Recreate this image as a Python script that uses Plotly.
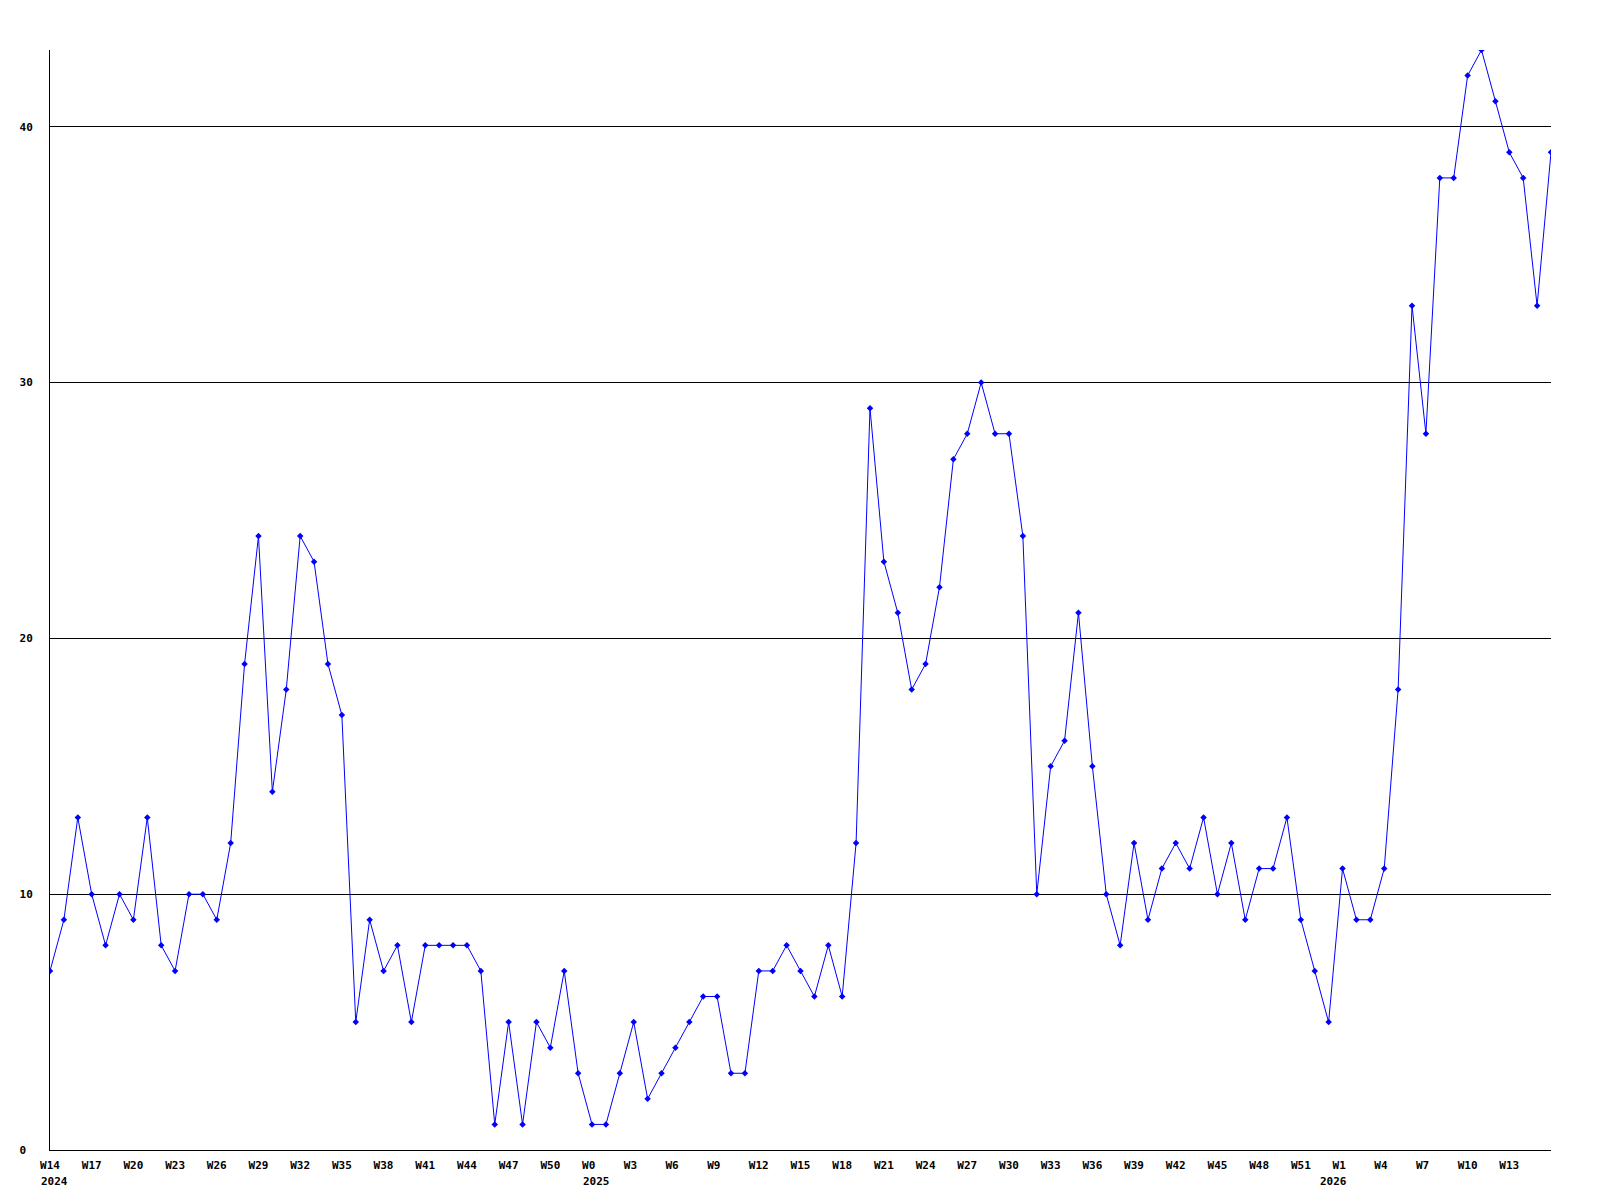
import plotly.graph_objects as go

# ---- data ----
years = [2024] * 39 + [2025] * 53 + [2026] * 17
week_numbers = [
    14, 15, 16, 17, 18, 19, 20, 21, 22, 23, 24, 25, 26, 27, 28, 29, 30, 31, 32, 33,
    34, 35, 36, 37, 38, 39, 40, 41, 42, 43, 44, 45, 46, 47, 48, 49, 50, 51, 52,
    0, 1, 2, 3, 4, 5, 6, 7, 8, 9, 10, 11, 12, 13, 14, 15, 16, 17, 18, 19, 20,
    21, 22, 23, 24, 25, 26, 27, 28, 29, 30, 31, 32, 33, 34, 35, 36, 37, 38, 39, 40,
    41, 42, 43, 44, 45, 46, 47, 48, 49, 50, 51, 52,
    0, 1, 2, 3, 4, 5, 6, 7, 8, 9, 10, 11, 12, 13, 14, 15, 16,
]
values = [
    7, 9, 13, 10, 8, 10, 9, 13, 8, 7, 10, 10, 9, 12, 19, 24, 14, 18, 24, 23,
    19, 17, 5, 9, 7, 8, 5, 8, 8, 8, 8, 7, 1, 5, 1, 5, 4, 7, 3,
    1, 1, 3, 5, 2, 3, 4, 5, 6, 6, 3, 3, 7, 7, 8, 7, 6, 8, 6, 12, 29,
    23, 21, 18, 19, 22, 27, 28, 30, 28, 28, 24, 10, 15, 16, 21, 15, 10, 8, 12, 9,
    11, 12, 11, 13, 10, 12, 9, 11, 11, 13, 9, 7,
    5, 11, 9, 9, 11, 18, 33, 28, 38, 38, 42, 43, 41, 39, 38, 33, 39,
]
y_ticks = [0, 10, 20, 30, 40]

# ---- derived ----
x_keys = [f"{y}-W{w}" for y, w in zip(years, week_numbers)]
tick_step = 3
# every third week is labelled; the final point carries no label
tickvals = x_keys[:-1][::tick_step]
ticktext = []
for w in week_numbers[:-1][::tick_step]:
    s = f"W{w}"
    ticktext.append(s + "\u00a0" * (3 - len(s)))

font_family = "DejaVu Sans Mono"
blue = "#0000FF"

fig = go.Figure()
fig.add_trace(go.Scatter(
    x=x_keys, y=values, mode="lines+markers",
    line=dict(color=blue, width=1),
    marker=dict(color=blue, size=5, symbol="diamond"),
    hoverinfo="x+y",
))

# year labels at the first week of each year
annotations = []
seen = set()
for k, y in zip(x_keys, years):
    if y not in seen:
        seen.add(y)
        annotations.append(dict(
            x=k, xref="x", y=0, yref="paper", text=str(y), showarrow=False,
            xanchor="left", yanchor="middle", xshift=-11, yshift=-31,
            font=dict(family=font_family, size=11, color="black", weight="bold"),
        ))

fig.update_layout(
    width=1600, height=1200,
    margin=dict(l=50, r=49, t=50, b=50),
    paper_bgcolor="white", plot_bgcolor="white",
    showlegend=False,
    annotations=annotations,
    xaxis=dict(
        type="category",
        range=[0, len(x_keys) - 1],
        tickvals=tickvals, ticktext=ticktext,
        ticks="", showgrid=False, zeroline=False,
        showline=True, linecolor="black", linewidth=1,
        tickfont=dict(family=font_family, size=11, color="black", weight="bold"),
        ticklabelstandoff=5,
    ),
    yaxis=dict(
        range=[0, 43],
        tickvals=y_ticks,
        ticktext=[str(v) + "\u00a0" * (2 - len(str(v))) for v in y_ticks],
        ticks="", showgrid=True, gridcolor="black", gridwidth=1,
        zeroline=False,
        showline=True, linecolor="black", linewidth=1,
        tickfont=dict(family=font_family, size=11, color="black", weight="bold"),
        ticklabelstandoff=14,
    ),
)

fig.write_html(
    "out.html",
    config={"displayModeBar": False},
    post_script="document.body.style.margin='0';document.body.style.overflow='hidden';",
)
